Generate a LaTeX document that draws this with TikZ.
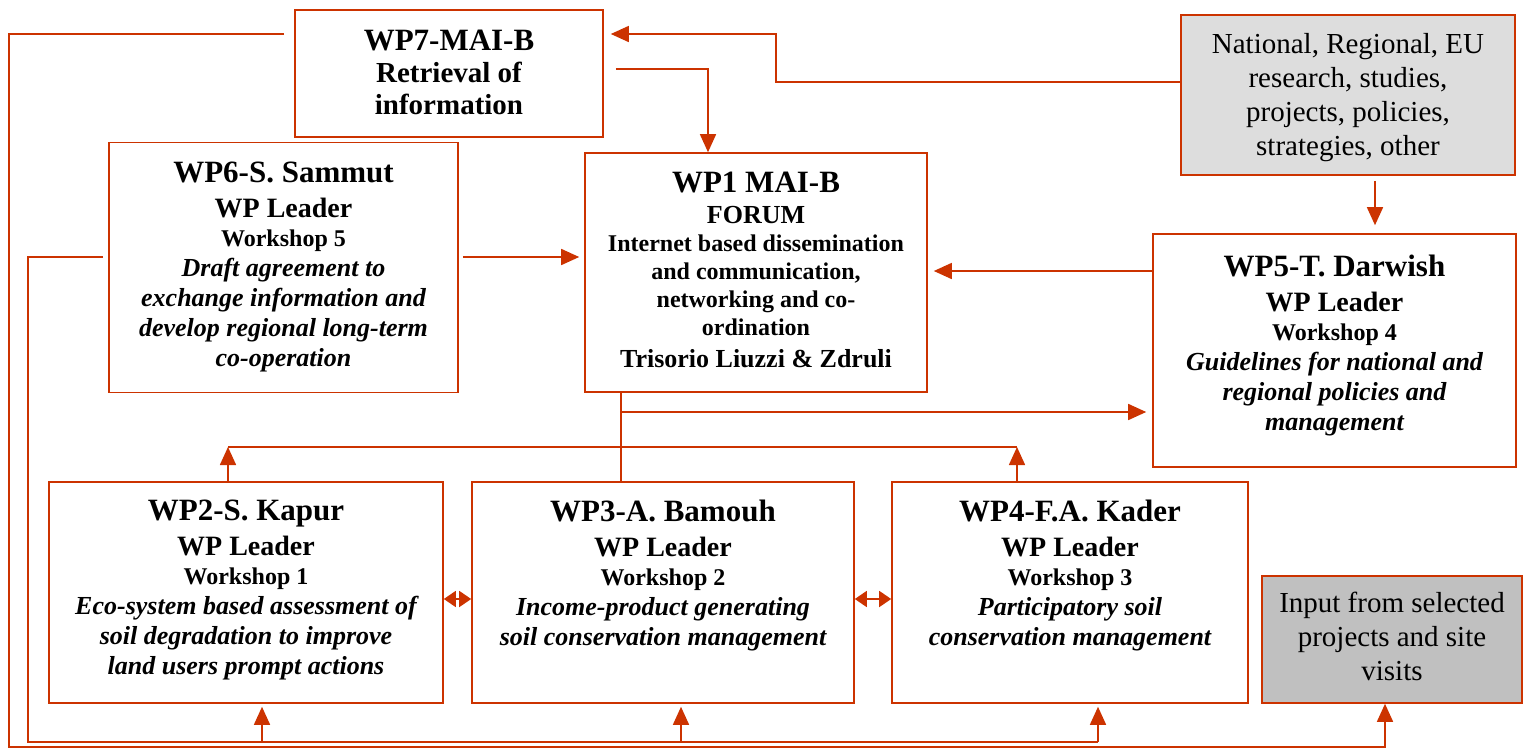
\documentclass[tikz,border=0pt]{standalone}
\usepackage{fontspec}
\setmainfont{Liberation Serif}
\usetikzlibrary{arrows.meta}

\definecolor{wireRed}{RGB}{204,51,0}
\definecolor{srcGray}{RGB}{221,221,221}
\definecolor{inGray}{RGB}{192,192,192}

\newcommand\wpHead{\normalfont\fontsize{31}{35}\selectfont\bfseries}
\newcommand\wpLead{\normalfont\fontsize{28}{35}\selectfont\bfseries}
\newcommand\wpShop{\normalfont\fontsize{24}{29}\selectfont\bfseries}
\newcommand\wpTask{\normalfont\fontsize{26}{30}\selectfont\bfseries\itshape}
\newcommand\wpNote{\normalfont\fontsize{29}{34}\selectfont}
\newcommand\wpText[3]{\begin{minipage}[c][#1][t]{#2}\centering #3\par\end{minipage}}

\begin{document}
\begin{tikzpicture}[x=1pt,y=-1pt,
  wpbox/.style={draw=wireRed,line width=1.6pt,inner sep=0pt},
  wire/.style={draw=wireRed,line width=1.6pt},
  arr/.style={wire,-{Triangle[length=18pt,width=16pt]}},
  twoway/.style={wire,{Triangle[length=12pt,width=16pt]}-{Triangle[length=12pt,width=16pt]}}]
\useasboundingbox (0,0) rectangle (1524,750);

\node[wpbox,minimum width=308pt,minimum height=127pt] (wp7) at (449,73.5)
  {\wpText{87pt}{300pt}{\wpHead WP7-MAI-B\par
   \normalfont\fontsize{29}{32}\selectfont\bfseries Retrieval of\\ information}};
\node[wpbox,fill=srcGray,minimum width=334pt,minimum height=160pt] (src) at (1348,95)
  {\wpText{124pt}{326pt}{\wpNote National, Regional, EU\\ research, studies,\\ projects, policies,\\ strategies, other}};
\node[wpbox,minimum width=349pt,minimum height=250pt] (wp6) at (283.5,267.5)
  {\wpText{212pt}{340pt}{\wpHead WP6-S. Sammut\par \wpLead WP Leader\par \wpShop Workshop 5\par
   \wpTask Draft agreement to\\ exchange information and\\ develop regional long-term\\ co-operation}};
\node[wpbox,minimum width=342pt,minimum height=239pt] (wp1) at (756,272.5)
  {\wpText{201pt}{334pt}{\wpHead WP1 MAI-B\par
   \normalfont\fontsize{26}{31}\selectfont\bfseries FORUM\par
   \normalfont\fontsize{24}{28}\selectfont\bfseries Internet based dissemination\\ and communication,\\ networking and co-\\ ordination\par
   \normalfont\fontsize{26}{32}\selectfont\bfseries Trisorio Liuzzi \& Zdruli}};
\node[wpbox,minimum width=363pt,minimum height=233pt] (wp5) at (1334.5,350.5)
  {\wpText{191pt}{354pt}{\wpHead WP5-T. Darwish\par \wpLead WP Leader\par \wpShop Workshop 4\par
   \wpTask Guidelines for national and\\ regional policies and\\ management}};

\node[wpbox,minimum width=394pt,minimum height=221pt] (wp2) at (246,592.5)
  {\wpText{185pt}{386pt}{\wpHead WP2-S. Kapur\par \wpLead WP Leader\par \wpShop Workshop 1\par
   \wpTask Eco-system based assessment of\\ soil degradation to improve\\ land users prompt actions}};
\node[wpbox,minimum width=382pt,minimum height=221pt] (wp3) at (663,592.5)
  {\wpText{185pt}{374pt}{\wpHead WP3-A. Bamouh\par \wpLead WP Leader\par \wpShop Workshop 2\par
   \wpTask Income-product generating\\ soil conservation management}};
\node[wpbox,minimum width=356pt,minimum height=221pt] (wp4) at (1070,592.5)
  {\wpText{185pt}{348pt}{\wpHead WP4-F.A. Kader\par \wpLead WP Leader\par \wpShop Workshop 3\par
   \wpTask Participatory soil\\ conservation management}};
\node[wpbox,fill=inGray,minimum width=260pt,minimum height=127pt] (input) at (1392,639.5)
  {\wpText{95pt}{252pt}{\wpNote Input from selected\\ projects and site\\ visits}};

\coordinate (hub) at (621,412);
\coordinate (fbL) at (228,447);
\coordinate (fbR) at (1017,447);
\coordinate (inR) at (1098,742);

% links between the work packages
\draw[arr,shorten >=7pt] (src.west |- 0,82) -| (776,34) -- (wp7.east |- 0,34);
\draw[arr,shorten <=12pt] (wp7.east |- 0,69) -| (wp1.north -| 708,0);
\draw[arr,shorten <=4pt,shorten >=5pt] (wp6.east |- 0,257) -- (wp1.west |- 0,257);
\draw[arr,shorten >=6pt] (wp5.west |- 0,271) -- (wp1.east |- 0,271);
\draw[arr,shorten <=5pt,shorten >=8pt] (src.south -| 1375,0) -- (wp5.north -| 1375,0);
\draw[wire] (wp1.south -| hub) -- (wp3.north -| hub);
\draw[arr,shorten >=6pt] (hub) -- (wp5.west |- hub);
\draw[wire] (fbL) -- (fbR);
\draw[arr] (wp2.north -| fbL) -- (fbL);
\draw[arr] (wp4.north -| fbR) -- (fbR);
\draw[twoway] (wp2.east |- 0,599) -- (wp3.west |- 0,599);
\draw[twoway] (wp3.east |- 0,599) -- (wp4.west |- 0,599);

% feedback loops round the left and bottom
\draw[wire,shorten <=5pt] (wp6.west |- 0,257) -| (28,742) -- (inR);
\foreach \b/\x in {wp2/262,wp3/681,wp4/1098}
  \draw[arr,shorten >=3pt] (\x,742) -- (\b.south -| \x,0);
\draw[arr,shorten <=10pt] (wp7.west |- 0,34) -| (9,747) -| (input.south -| 1385,0);

\end{tikzpicture}
\end{document}
